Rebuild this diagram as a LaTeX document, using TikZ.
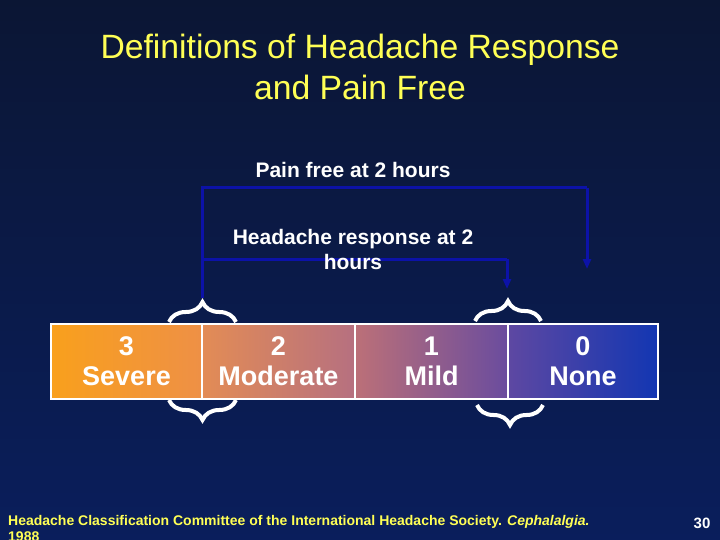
\documentclass[tikz,border=0pt]{standalone}
\usepackage{fontspec}
\setmainfont{Liberation Sans}
\usetikzlibrary{arrows.meta,decorations.pathreplacing}
\definecolor{bgtop}{HTML}{0B1634}
\definecolor{bgbot}{HTML}{0A1E5C}
\definecolor{ttl}{HTML}{FFFF55}
\definecolor{ln}{HTML}{0C12A8}
\tikzset{
  cellbox/.style={draw=white, line width=2pt, minimum width=#1, minimum height=75pt, inner sep=0pt, anchor=west, align=center, text=white, font=\fontsize{27}{30}\selectfont\bfseries},
  lbl/.style={text=white, align=center, font=\fontsize{21}{25}\selectfont\bfseries, inner sep=0pt},
  conn/.style={draw=ln, line width=3pt},
  tipped/.style={-{Triangle[length=10pt,width=8pt]}},
  bracelook/.style={draw=white, line width=4pt, decorate, decoration={brace, amplitude=20pt}},
}
\begin{document}
\begin{tikzpicture}[x=1pt,y=-1pt]
\useasboundingbox (0,0) rectangle (720,540);
\fill[top color=bgtop, bottom color=bgbot] (0,0) rectangle (720,540);
% title
\node[text=ttl, align=center, font=\fontsize{33.7}{41}\selectfont] (title) at (360,67) {Definitions of Headache Response\\and Pain Free};
% connectors
\coordinate (btl) at (202,298);
\coordinate (pfa) at (202,188);
\coordinate (pfb) at (587,188);
\coordinate (pfe) at (587,269);
\coordinate (hra) at (202,259);
\coordinate (hrb) at (507,259);
\coordinate (hre) at (507,289);
\draw[conn] (btl) -- (pfa) -- (pfb);
\draw[conn, tipped] (pfb) -- (pfe);
\draw[conn] (hra) -- (hrb);
\draw[conn, tipped] (hrb) -- (hre);
% labels
\node[lbl] (pf) at (353,170) {Pain free at 2 hours};
\node[lbl] (hr) at (353,249.5) {Headache response at 2\\hours};
% bar cells
\node[cellbox=151pt, left color={rgb,255:red,249;green,160;blue,28}, right color={rgb,255:red,238;green,144;blue,70}] (c3) at (50,361) {3\\Severe};
\node[cellbox=153pt, left color={rgb,255:red,227;green,140;blue,85}, right color={rgb,255:red,182;green,112;blue,128}] (c2) at (201,361) {2\\Moderate};
\node[cellbox=153pt, left color={rgb,255:red,188;green,112;blue,120}, right color={rgb,255:red,106;green,76;blue,158}] (c1) at (354,361) {1\\Mild};
\node[cellbox=150pt, left color={rgb,255:red,94;green,72;blue,162}, right color={rgb,255:red,18;green,54;blue,178}] (c0) at (507,361) {0\\None};
% braces
\coordinate (b1a) at (169,322);
\coordinate (b1b) at (236,322);
\coordinate (b2a) at (236,400);
\coordinate (b2b) at (169,400);
\coordinate (b3a) at (475,321);
\coordinate (b3b) at (541,321);
\coordinate (b4a) at (543,405);
\coordinate (b4b) at (477,405);
\draw[bracelook] (b1a) -- (b1b);
\draw[bracelook] (b2a) -- (b2b);
\draw[bracelook] (b3a) -- (b3b);
\draw[bracelook] (b4a) -- (b4b);
% footnote
\node[text=ttl, anchor=north west, align=left, inner sep=0pt, font=\fontsize{14}{16}\selectfont\bfseries] (fn) at (8,515) {Headache Classification Committee of the International Headache Society. \textit{Cephalalgia.}\\1988};
\node[text=white, font=\fontsize{15}{17}\selectfont\bfseries, inner sep=0pt] (pg) at (702,523) {30};
\end{tikzpicture}
\end{document}
